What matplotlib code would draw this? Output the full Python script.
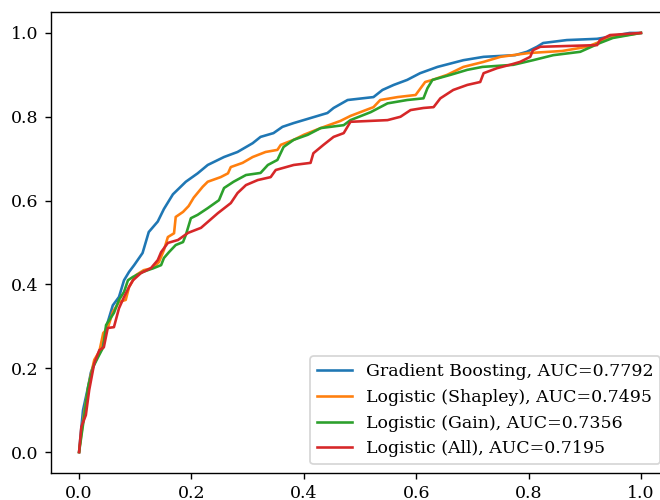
import matplotlib
matplotlib.use("Agg")
import matplotlib.pyplot as plt

plt.rcParams['font.family'] = ['DejaVu Serif']

# ROC points (false positive rate, true positive rate)
gb_fpr = [0.0, 0.002, 0.007, 0.016, 0.021, 0.027, 0.039, 0.051, 0.06, 0.071, 0.08, 0.089,
          0.098, 0.113, 0.124, 0.14, 0.151, 0.167, 0.19, 0.211, 0.229, 0.258, 0.282, 0.309,
          0.323, 0.346, 0.362, 0.382, 0.412, 0.442, 0.453, 0.478, 0.524, 0.54, 0.56, 0.584,
          0.607, 0.638, 0.684, 0.72, 0.776, 0.797, 0.815, 0.826, 0.868, 0.922, 0.94, 0.98, 1.0]
gb_tpr = [0.0, 0.03, 0.10, 0.155, 0.19, 0.21, 0.25, 0.31, 0.35, 0.37, 0.41, 0.43,
          0.446, 0.475, 0.525, 0.55, 0.58, 0.615, 0.645, 0.665, 0.685, 0.704, 0.716, 0.737,
          0.752, 0.761, 0.776, 0.785, 0.797, 0.809, 0.821, 0.84, 0.847, 0.864, 0.876, 0.888,
          0.904, 0.919, 0.935, 0.943, 0.947, 0.955, 0.967, 0.976, 0.983, 0.986, 0.99, 1.0, 1.0]

shap_fpr = [0.0, 0.001, 0.009, 0.018, 0.027, 0.036, 0.043, 0.051, 0.06, 0.071, 0.083, 0.089,
            0.101, 0.115, 0.131, 0.142, 0.151, 0.158, 0.169, 0.172, 0.185, 0.195, 0.204, 0.22,
            0.229, 0.252, 0.265, 0.27, 0.291, 0.309, 0.332, 0.353, 0.359, 0.382, 0.4, 0.43,
            0.465, 0.483, 0.524, 0.536, 0.567, 0.599, 0.616, 0.629, 0.655, 0.684, 0.72, 0.75,
            0.8, 0.86, 0.904, 0.927, 0.95, 1.0]
shap_tpr = [0.0, 0.012, 0.093, 0.167, 0.22, 0.24, 0.284, 0.296, 0.334, 0.358, 0.363, 0.394,
            0.422, 0.434, 0.439, 0.453, 0.482, 0.513, 0.522, 0.561, 0.573, 0.587, 0.607, 0.633,
            0.645, 0.656, 0.665, 0.68, 0.69, 0.704, 0.716, 0.721, 0.733, 0.745, 0.757, 0.773,
            0.79, 0.802, 0.823, 0.84, 0.847, 0.852, 0.883, 0.888, 0.9, 0.919, 0.931, 0.943,
            0.952, 0.957, 0.967, 0.979, 0.99, 1.0]

gain_fpr = [0.0, 0.009, 0.016, 0.025, 0.034, 0.043, 0.048, 0.062, 0.071, 0.08, 0.087, 0.096,
            0.114, 0.133, 0.146, 0.151, 0.16, 0.172, 0.185, 0.19, 0.199, 0.211, 0.229, 0.249,
            0.258, 0.275, 0.297, 0.323, 0.336, 0.353, 0.364, 0.382, 0.407, 0.43, 0.471, 0.483,
            0.519, 0.549, 0.584, 0.613, 0.62, 0.629, 0.661, 0.691, 0.718, 0.773, 0.808, 0.844,
            0.892, 0.927, 0.95, 1.0]
gain_tpr = [0.0, 0.084, 0.155, 0.203, 0.227, 0.25, 0.303, 0.332, 0.363, 0.382, 0.41, 0.418,
            0.43, 0.439, 0.446, 0.463, 0.477, 0.494, 0.501, 0.518, 0.558, 0.566, 0.582, 0.601,
            0.63, 0.645, 0.661, 0.666, 0.685, 0.697, 0.728, 0.745, 0.757, 0.773, 0.78, 0.792,
            0.811, 0.832, 0.84, 0.844, 0.868, 0.888, 0.9, 0.912, 0.919, 0.924, 0.935, 0.947,
            0.955, 0.976, 0.988, 1.0]

all_fpr = [0.0, 0.004, 0.012, 0.018, 0.027, 0.036, 0.044, 0.051, 0.062, 0.071, 0.08, 0.089,
           0.096, 0.11, 0.128, 0.14, 0.146, 0.158, 0.176, 0.194, 0.217, 0.229, 0.247, 0.27,
           0.282, 0.297, 0.318, 0.341, 0.35, 0.382, 0.412, 0.417, 0.435, 0.453, 0.471, 0.483,
           0.549, 0.572, 0.59, 0.613, 0.631, 0.643, 0.666, 0.691, 0.714, 0.72, 0.744, 0.767,
           0.785, 0.803, 0.808, 0.821, 0.922, 0.927, 0.945, 1.0]
all_tpr = [0.0, 0.06, 0.088, 0.148, 0.212, 0.243, 0.25, 0.296, 0.298, 0.343, 0.37, 0.394,
           0.41, 0.427, 0.439, 0.458, 0.477, 0.499, 0.506, 0.523, 0.535, 0.549, 0.57, 0.594,
           0.618, 0.637, 0.649, 0.656, 0.673, 0.685, 0.69, 0.713, 0.733, 0.752, 0.761, 0.788,
           0.792, 0.8, 0.816, 0.821, 0.823, 0.844, 0.864, 0.876, 0.883, 0.904, 0.916, 0.924,
           0.931, 0.943, 0.959, 0.967, 0.971, 0.983, 0.995, 1.0]

labels = ["Gradient Boosting, AUC=0.7792",
          "Logistic (Shapley), AUC=0.7495",
          "Logistic (Gain), AUC=0.7356",
          "Logistic (All), AUC=0.7195"]

# reference is rendered at a larger scale: 125 dpi keeps 660x500 px
fig = plt.figure(figsize=(5.28, 4.0), dpi=125)
# axes run slightly past the right edge, as in the cropped reference
ax = fig.add_axes([51 / 660, 27 / 500, 618 / 660, 461 / 500])

ax.plot(gb_fpr, gb_tpr, label=labels[0])
ax.plot(shap_fpr, shap_tpr, label=labels[1])
ax.plot(gain_fpr, gain_tpr, label=labels[2])
ax.plot(all_fpr, all_tpr, label=labels[3])

ax.legend(loc='lower right')

fig.savefig("out.png", dpi=125)
